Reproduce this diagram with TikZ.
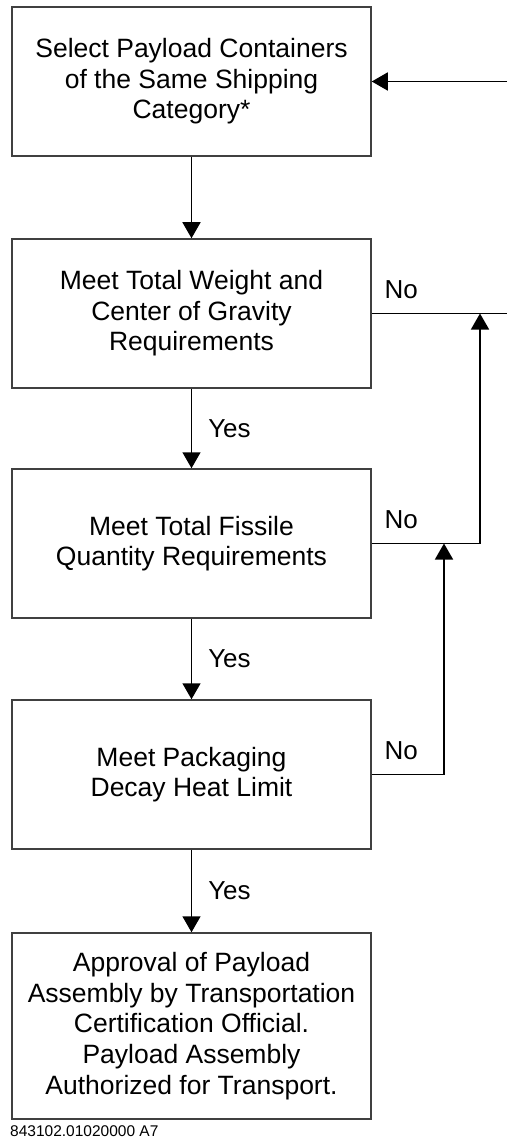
\documentclass[tikz,border=0pt]{standalone}
\usepackage{fontspec}
\setmainfont{Liberation Sans}
\usetikzlibrary{arrows.meta}

\tikzset{
  stepbox/.style={draw=black!75, line width=1.5pt, minimum width=359pt,
    minimum height=149pt, inner sep=0pt, align=center,
    font=\fontsize{26.5}{30.6}\selectfont},
  flow/.style={line width=1.5pt, -{Triangle[length=16pt,width=18pt]}},
  link/.style={line width=1.5pt},
  answer/.style={inner sep=0pt, font=\fontsize{26}{30}\selectfont}
}

\begin{document}
\begin{tikzpicture}[x=1pt,y=-1pt]
      \useasboundingbox (0,0) rectangle (507,1139);

      % Define the steps
      \node[stepbox] (select) at (191.5,81.5) {Select Payload Containers\\of the Same Shipping\\Category*};
      \node[stepbox] (weight) at (191.5,313.5) {Meet Total Weight and\\Center of Gravity\\Requirements};
      \node[stepbox] (fissile) at (191.5,543.5) {Meet Total Fissile\\Quantity Requirements};
      \node[stepbox] (decay) at (191.5,774.5) {Meet Packaging\\Decay Heat Limit};
      \node[stepbox, minimum height=186pt] (approval) at (191.5,1026) {Approval of Payload\\Assembly by Transportation\\Certification Official.\\Payload Assembly\\Authorized for Transport.};

      % Define return points
      \coordinate (back) at (507,81.5);
      \coordinate (exit) at (507,313.5);
      \coordinate (joinA) at (480,313.5);
      \coordinate (joinB) at (444,543.5);

      % Draw the Yes arrows
      \draw[flow] (select) -- (weight);
      \draw[flow] (weight) -- node[answer, anchor=west, xshift=16pt] {Yes} (fissile);
      \draw[flow] (fissile) -- node[answer, anchor=west, xshift=16pt] {Yes} (decay);
      \draw[flow] (decay) -- node[answer, anchor=west, xshift=16pt] {Yes} (approval);

      % Draw the No lines
      \draw[flow] (back) -- (select);
      \draw[link] (weight.east) -- node[answer, pos=0, anchor=base west, xshift=12pt, yshift=15pt] {No} (exit);
      \draw[flow] (fissile.east) -| node[answer, pos=0, anchor=base west, xshift=12pt, yshift=15pt] {No} (joinA);
      \draw[flow] (decay.east) -| node[answer, pos=0, anchor=base west, xshift=12pt, yshift=15pt] {No} (joinB);

      % Label the figure
      \node[anchor=base west, inner sep=0pt, font=\fontsize{15.5}{18}\selectfont] (figcode) at (10,1136) {843102.01020000 A7};
    \end{tikzpicture}
\end{document}
